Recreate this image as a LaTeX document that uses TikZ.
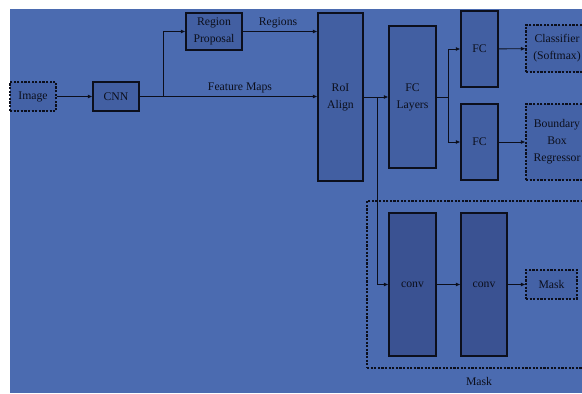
\documentclass[tikz,border=0pt]{standalone}
\usepackage{fontspec}
\setmainfont{Liberation Serif}
\usetikzlibrary{arrows.meta}
\definecolor{bg}{RGB}{75,107,176}
\definecolor{boxfill}{RGB}{66,95,162}
\definecolor{convfill}{RGB}{58,82,146}
\definecolor{dashfill}{RGB}{68,98,166}
\definecolor{ink}{RGB}{12,15,28}
\tikzset{
  every node/.style={font=\fontsize{11.7}{17}\selectfont, text=ink},
  blk/.style={draw=ink, line width=1.1pt, fill=boxfill, inner sep=0pt, align=center},
  convblk/.style={blk, fill=convfill},
  dblk/.style={draw=ink, line width=1.1pt, fill=dashfill, inner sep=0pt, align=center, dash pattern=on 2.2pt off 1.4pt},
  arr/.style={draw=ink, line width=0.85pt, -{Latex[length=4.5pt,width=4pt]}},
  ln/.style={draw=ink, line width=0.85pt},
  lbl/.style={inner sep=0pt}
}
\begin{document}
\begin{tikzpicture}[x=1pt,y=-1pt]
\clip (0,0) rectangle (582,394);
\useasboundingbox (0,0) rectangle (582,394);
\fill[white] (0,0) rectangle (582,394);
\fill[bg] (10,9) rectangle (582,393);

% big mask container
\node[draw=ink, line width=1.1pt, dash pattern=on 2.2pt off 1.4pt, minimum width=226pt, minimum height=167pt, inner sep=0pt] (maskbox) at (480,284.5) {};
\node[lbl] (masklbl) at (479,381) {Mask};

\node[dblk, minimum width=46pt, minimum height=29pt] (img) at (33,96.5) {Image};
\node[blk, minimum width=46pt, minimum height=29pt] (cnn) at (116,96.5) {CNN};
\node[blk, minimum width=56pt, minimum height=37pt] (rp) at (214,31.5) {Region\\Proposal};
\node[blk, minimum width=45pt, minimum height=168pt] (roi) at (340.5,97) {RoI\\Align};
\node[blk, minimum width=47pt, minimum height=142pt] (fcl) at (412.5,97) {FC\\Layers};
\node[blk, minimum width=37pt, minimum height=76pt] (fc1) at (479.5,49) {FC};
\node[blk, minimum width=37pt, minimum height=76pt] (fc2) at (479.5,142) {FC};
\node[dblk, minimum width=62pt, minimum height=47pt] (cls) at (557,48.5) {Classifier\\(Softmax)};
\node[dblk, minimum width=62pt, minimum height=76pt] (bbr) at (557,142) {Boundary\\Box\\Regressor};
\node[convblk, minimum width=47pt, minimum height=143pt] (conv1) at (412.5,284.5) {conv};
\node[convblk, minimum width=46pt, minimum height=143pt] (conv2) at (484,284.5) {conv};
\node[dblk, minimum width=51pt, minimum height=29pt] (mask) at (551.5,284.5) {Mask};

\coordinate (b1) at (163,97);
\coordinate (b2) at (377,97);
\coordinate (b3) at (448,97);

\draw[arr] (img) -- (cnn);
\draw[arr] (cnn.east) -- (cnn.east -| roi.west);
\draw[arr] (b1) |- (rp.west);
\draw[arr] (rp.east) -- (rp.east -| roi.west);
\node[lbl] (regl) at (278,23) {Regions};
\node[lbl] (fml) at (240,88) {Feature Maps};
\draw[arr] (roi.east |- b2) -- (fcl.west |- b2);
\draw[arr] (b2) |- (conv1.west);
\draw[ln] (fcl.east |- b3) -- (b3);
\draw[arr] (b3) |- (fc1.west);
\draw[arr] (b3) |- (fc2.west);
\draw[arr] (fc1) -- (cls);
\draw[arr] (fc2) -- (bbr);
\draw[arr] (conv1) -- (conv2);
\draw[arr] (conv2) -- (mask);
\end{tikzpicture}
\end{document}
